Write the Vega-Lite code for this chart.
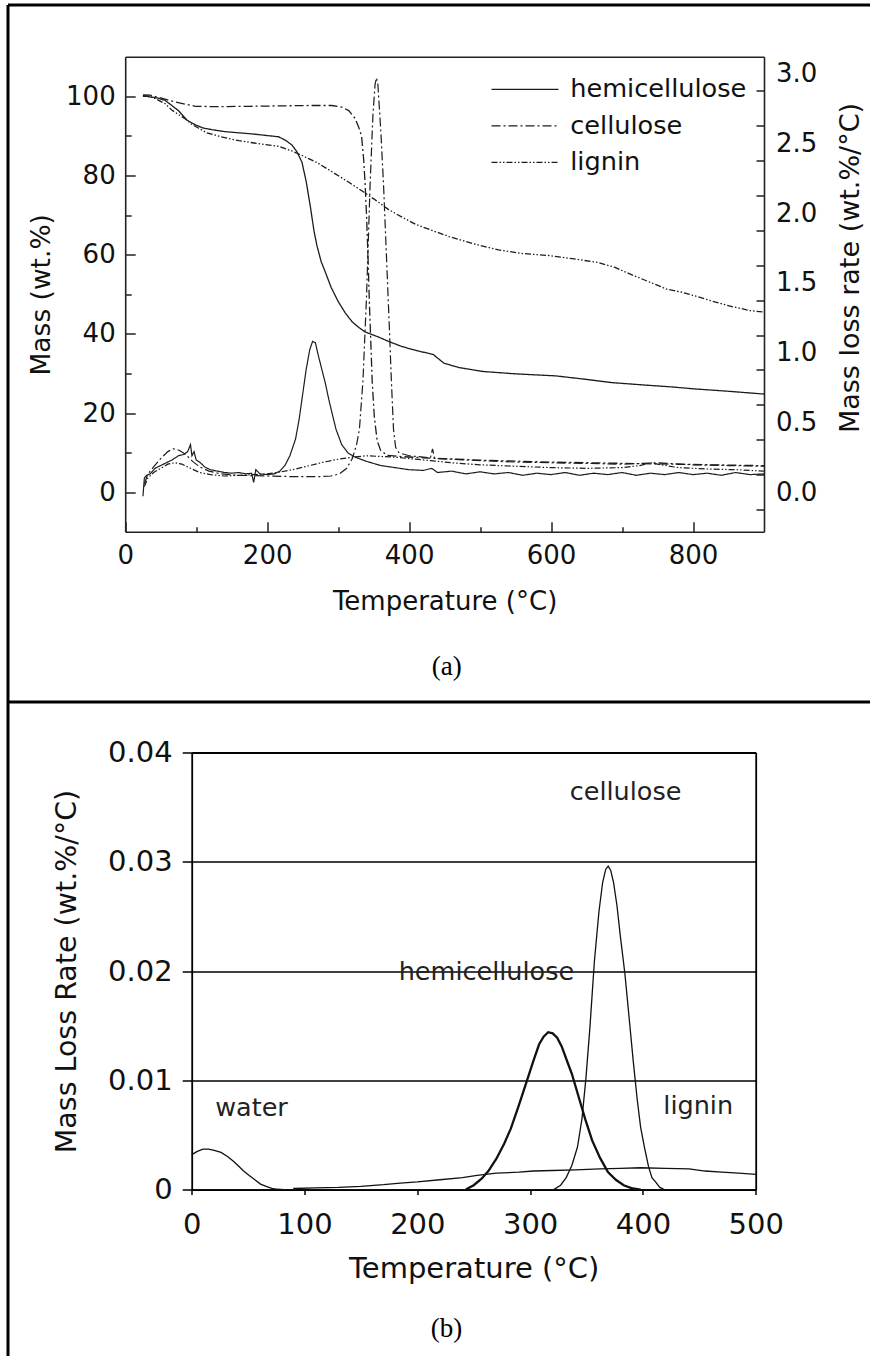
{
  "$schema": "https://vega.github.io/schema/vega-lite/v6.json",
  "padding": {"left": 7.5, "top": 4.5, "right": 0, "bottom": 0},
  "autosize": {"type": "pad"},
  "background": "white",
  "spacing": 0,
  "bounds": "flush",
  "config": {
    "view": {"stroke": null},
    "font": "DejaVu Sans",
    "axis": {"domainColor": "#222", "tickColor": "#222", "labelColor": "#111", "titleColor": "#111", "labelFont": "DejaVu Sans", "titleFont": "DejaVu Sans", "titleFontWeight": "normal", "grid": false},
    "text": {"font": "DejaVu Sans"}
  },
  "datasets": {
    "mass": [
      {"comp": "hemicellulose", "T": 25, "mass": 100}, {"comp": "hemicellulose", "T": 30, "mass": 100}, {"comp": "hemicellulose", "T": 45, "mass": 99.6}, {"comp": "hemicellulose", "T": 56, "mass": 99}, {"comp": "hemicellulose", "T": 65, "mass": 97.8}, {"comp": "hemicellulose", "T": 75, "mass": 96.4}, {"comp": "hemicellulose", "T": 87, "mass": 94}, {"comp": "hemicellulose", "T": 99, "mass": 92.8}, {"comp": "hemicellulose", "T": 110, "mass": 92}, {"comp": "hemicellulose", "T": 122, "mass": 91.6}, {"comp": "hemicellulose", "T": 140, "mass": 91.1}, {"comp": "hemicellulose", "T": 160, "mass": 90.8}, {"comp": "hemicellulose", "T": 180, "mass": 90.5}, {"comp": "hemicellulose", "T": 200, "mass": 90.1}, {"comp": "hemicellulose", "T": 216, "mass": 89.8}, {"comp": "hemicellulose", "T": 226, "mass": 88.9}, {"comp": "hemicellulose", "T": 235, "mass": 87.7}, {"comp": "hemicellulose", "T": 242, "mass": 86}, {"comp": "hemicellulose", "T": 249, "mass": 83.4}, {"comp": "hemicellulose", "T": 255, "mass": 78.5}, {"comp": "hemicellulose", "T": 261, "mass": 72}, {"comp": "hemicellulose", "T": 266, "mass": 66}, {"comp": "hemicellulose", "T": 270, "mass": 62.4}, {"comp": "hemicellulose", "T": 276, "mass": 58.3}, {"comp": "hemicellulose", "T": 282, "mass": 55.6}, {"comp": "hemicellulose", "T": 290, "mass": 51.8}, {"comp": "hemicellulose", "T": 300, "mass": 48.2}, {"comp": "hemicellulose", "T": 310, "mass": 45.3}, {"comp": "hemicellulose", "T": 320, "mass": 43}, {"comp": "hemicellulose", "T": 330, "mass": 41.5}, {"comp": "hemicellulose", "T": 338, "mass": 40.5}, {"comp": "hemicellulose", "T": 357, "mass": 39.2}, {"comp": "hemicellulose", "T": 371, "mass": 38.1}, {"comp": "hemicellulose", "T": 390, "mass": 36.8}, {"comp": "hemicellulose", "T": 410, "mass": 35.8}, {"comp": "hemicellulose", "T": 434, "mass": 34.8}, {"comp": "hemicellulose", "T": 449, "mass": 32.6}, {"comp": "hemicellulose", "T": 470, "mass": 31.5}, {"comp": "hemicellulose", "T": 504, "mass": 30.5}, {"comp": "hemicellulose", "T": 550, "mass": 29.9}, {"comp": "hemicellulose", "T": 606, "mass": 29.4}, {"comp": "hemicellulose", "T": 645, "mass": 28.6}, {"comp": "hemicellulose", "T": 685, "mass": 27.7}, {"comp": "hemicellulose", "T": 730, "mass": 27.1}, {"comp": "hemicellulose", "T": 770, "mass": 26.6}, {"comp": "hemicellulose", "T": 802, "mass": 26.1}, {"comp": "hemicellulose", "T": 850, "mass": 25.5}, {"comp": "hemicellulose", "T": 900, "mass": 24.8},
      {"comp": "cellulose", "T": 25, "mass": 100.4}, {"comp": "cellulose", "T": 35, "mass": 100.3}, {"comp": "cellulose", "T": 50, "mass": 99.6}, {"comp": "cellulose", "T": 70, "mass": 98.6}, {"comp": "cellulose", "T": 99, "mass": 97.5}, {"comp": "cellulose", "T": 130, "mass": 97.4}, {"comp": "cellulose", "T": 175, "mass": 97.5}, {"comp": "cellulose", "T": 220, "mass": 97.6}, {"comp": "cellulose", "T": 260, "mass": 97.7}, {"comp": "cellulose", "T": 291, "mass": 97.7}, {"comp": "cellulose", "T": 305, "mass": 97.3}, {"comp": "cellulose", "T": 315, "mass": 96.4}, {"comp": "cellulose", "T": 324, "mass": 94.4}, {"comp": "cellulose", "T": 329, "mass": 92.2}, {"comp": "cellulose", "T": 333, "mass": 90}, {"comp": "cellulose", "T": 336, "mass": 84}, {"comp": "cellulose", "T": 338, "mass": 78}, {"comp": "cellulose", "T": 340, "mass": 70}, {"comp": "cellulose", "T": 342, "mass": 60}, {"comp": "cellulose", "T": 344, "mass": 48}, {"comp": "cellulose", "T": 346, "mass": 38}, {"comp": "cellulose", "T": 348, "mass": 28}, {"comp": "cellulose", "T": 351, "mass": 19}, {"comp": "cellulose", "T": 355, "mass": 13}, {"comp": "cellulose", "T": 360, "mass": 10.5}, {"comp": "cellulose", "T": 370, "mass": 9.3}, {"comp": "cellulose", "T": 390, "mass": 9}, {"comp": "cellulose", "T": 420, "mass": 8.7}, {"comp": "cellulose", "T": 460, "mass": 8.4}, {"comp": "cellulose", "T": 500, "mass": 8.1}, {"comp": "cellulose", "T": 600, "mass": 7.6}, {"comp": "cellulose", "T": 700, "mass": 7.3}, {"comp": "cellulose", "T": 800, "mass": 7}, {"comp": "cellulose", "T": 900, "mass": 6.7},
      {"comp": "lignin", "T": 25, "mass": 100.2}, {"comp": "lignin", "T": 35, "mass": 100}, {"comp": "lignin", "T": 45, "mass": 99.2}, {"comp": "lignin", "T": 56, "mass": 98.2}, {"comp": "lignin", "T": 66, "mass": 96.5}, {"comp": "lignin", "T": 76, "mass": 95.3}, {"comp": "lignin", "T": 85, "mass": 94.3}, {"comp": "lignin", "T": 95, "mass": 92.8}, {"comp": "lignin", "T": 103, "mass": 92}, {"comp": "lignin", "T": 115, "mass": 90.8}, {"comp": "lignin", "T": 135, "mass": 89.8}, {"comp": "lignin", "T": 160, "mass": 88.8}, {"comp": "lignin", "T": 190, "mass": 88}, {"comp": "lignin", "T": 216, "mass": 87.4}, {"comp": "lignin", "T": 235, "mass": 86.2}, {"comp": "lignin", "T": 250, "mass": 85}, {"comp": "lignin", "T": 270, "mass": 83.3}, {"comp": "lignin", "T": 291, "mass": 81}, {"comp": "lignin", "T": 315, "mass": 78.3}, {"comp": "lignin", "T": 338, "mass": 75.6}, {"comp": "lignin", "T": 355, "mass": 73.5}, {"comp": "lignin", "T": 371, "mass": 71.4}, {"comp": "lignin", "T": 390, "mass": 69.5}, {"comp": "lignin", "T": 410, "mass": 67.6}, {"comp": "lignin", "T": 430, "mass": 66.3}, {"comp": "lignin", "T": 456, "mass": 64.6}, {"comp": "lignin", "T": 490, "mass": 62.8}, {"comp": "lignin", "T": 526, "mass": 61.2}, {"comp": "lignin", "T": 560, "mass": 60.3}, {"comp": "lignin", "T": 597, "mass": 59.8}, {"comp": "lignin", "T": 630, "mass": 59}, {"comp": "lignin", "T": 667, "mass": 58}, {"comp": "lignin", "T": 690, "mass": 56.8}, {"comp": "lignin", "T": 714, "mass": 54.9}, {"comp": "lignin", "T": 740, "mass": 53}, {"comp": "lignin", "T": 763, "mass": 51.3}, {"comp": "lignin", "T": 785, "mass": 50.5}, {"comp": "lignin", "T": 810, "mass": 49.2}, {"comp": "lignin", "T": 832, "mass": 48}, {"comp": "lignin", "T": 855, "mass": 46.9}, {"comp": "lignin", "T": 880, "mass": 45.9}, {"comp": "lignin", "T": 900, "mass": 45.5}
    ],
    "rate": [
      {"comp": "hemicellulose", "T": 25, "rate": -0.03}, {"comp": "hemicellulose", "T": 27, "rate": 0.1}, {"comp": "hemicellulose", "T": 30, "rate": 0.12}, {"comp": "hemicellulose", "T": 35, "rate": 0.13}, {"comp": "hemicellulose", "T": 42, "rate": 0.17}, {"comp": "hemicellulose", "T": 50, "rate": 0.19}, {"comp": "hemicellulose", "T": 58, "rate": 0.21}, {"comp": "hemicellulose", "T": 66, "rate": 0.23}, {"comp": "hemicellulose", "T": 75, "rate": 0.26}, {"comp": "hemicellulose", "T": 83, "rate": 0.27}, {"comp": "hemicellulose", "T": 88, "rate": 0.29}, {"comp": "hemicellulose", "T": 92, "rate": 0.34}, {"comp": "hemicellulose", "T": 94, "rate": 0.26}, {"comp": "hemicellulose", "T": 97, "rate": 0.29}, {"comp": "hemicellulose", "T": 100, "rate": 0.23}, {"comp": "hemicellulose", "T": 106, "rate": 0.21}, {"comp": "hemicellulose", "T": 112, "rate": 0.18}, {"comp": "hemicellulose", "T": 120, "rate": 0.16}, {"comp": "hemicellulose", "T": 130, "rate": 0.15}, {"comp": "hemicellulose", "T": 140, "rate": 0.14}, {"comp": "hemicellulose", "T": 150, "rate": 0.135}, {"comp": "hemicellulose", "T": 160, "rate": 0.14}, {"comp": "hemicellulose", "T": 170, "rate": 0.13}, {"comp": "hemicellulose", "T": 178, "rate": 0.135}, {"comp": "hemicellulose", "T": 181, "rate": 0.07}, {"comp": "hemicellulose", "T": 184, "rate": 0.16}, {"comp": "hemicellulose", "T": 190, "rate": 0.13}, {"comp": "hemicellulose", "T": 200, "rate": 0.125}, {"comp": "hemicellulose", "T": 210, "rate": 0.13}, {"comp": "hemicellulose", "T": 218, "rate": 0.15}, {"comp": "hemicellulose", "T": 225, "rate": 0.19}, {"comp": "hemicellulose", "T": 232, "rate": 0.26}, {"comp": "hemicellulose", "T": 240, "rate": 0.38}, {"comp": "hemicellulose", "T": 245, "rate": 0.52}, {"comp": "hemicellulose", "T": 250, "rate": 0.7}, {"comp": "hemicellulose", "T": 255, "rate": 0.88}, {"comp": "hemicellulose", "T": 260, "rate": 1.02}, {"comp": "hemicellulose", "T": 264, "rate": 1.08}, {"comp": "hemicellulose", "T": 268, "rate": 1.07}, {"comp": "hemicellulose", "T": 272, "rate": 0.98}, {"comp": "hemicellulose", "T": 277, "rate": 0.88}, {"comp": "hemicellulose", "T": 282, "rate": 0.78}, {"comp": "hemicellulose", "T": 287, "rate": 0.66}, {"comp": "hemicellulose", "T": 291, "rate": 0.575}, {"comp": "hemicellulose", "T": 297, "rate": 0.45}, {"comp": "hemicellulose", "T": 305, "rate": 0.34}, {"comp": "hemicellulose", "T": 314, "rate": 0.28}, {"comp": "hemicellulose", "T": 324, "rate": 0.25}, {"comp": "hemicellulose", "T": 340, "rate": 0.22}, {"comp": "hemicellulose", "T": 360, "rate": 0.19}, {"comp": "hemicellulose", "T": 380, "rate": 0.175}, {"comp": "hemicellulose", "T": 400, "rate": 0.16}, {"comp": "hemicellulose", "T": 420, "rate": 0.155}, {"comp": "hemicellulose", "T": 432, "rate": 0.17}, {"comp": "hemicellulose", "T": 440, "rate": 0.14}, {"comp": "hemicellulose", "T": 460, "rate": 0.15}, {"comp": "hemicellulose", "T": 480, "rate": 0.13}, {"comp": "hemicellulose", "T": 500, "rate": 0.145}, {"comp": "hemicellulose", "T": 520, "rate": 0.13}, {"comp": "hemicellulose", "T": 540, "rate": 0.14}, {"comp": "hemicellulose", "T": 560, "rate": 0.12}, {"comp": "hemicellulose", "T": 580, "rate": 0.135}, {"comp": "hemicellulose", "T": 600, "rate": 0.125}, {"comp": "hemicellulose", "T": 620, "rate": 0.14}, {"comp": "hemicellulose", "T": 640, "rate": 0.12}, {"comp": "hemicellulose", "T": 660, "rate": 0.135}, {"comp": "hemicellulose", "T": 680, "rate": 0.125}, {"comp": "hemicellulose", "T": 700, "rate": 0.14}, {"comp": "hemicellulose", "T": 720, "rate": 0.12}, {"comp": "hemicellulose", "T": 740, "rate": 0.135}, {"comp": "hemicellulose", "T": 760, "rate": 0.125}, {"comp": "hemicellulose", "T": 780, "rate": 0.14}, {"comp": "hemicellulose", "T": 800, "rate": 0.125}, {"comp": "hemicellulose", "T": 820, "rate": 0.135}, {"comp": "hemicellulose", "T": 840, "rate": 0.12}, {"comp": "hemicellulose", "T": 860, "rate": 0.14}, {"comp": "hemicellulose", "T": 880, "rate": 0.125}, {"comp": "hemicellulose", "T": 900, "rate": 0.13},
      {"comp": "cellulose", "T": 27, "rate": 0.06}, {"comp": "cellulose", "T": 32, "rate": 0.13}, {"comp": "cellulose", "T": 40, "rate": 0.18}, {"comp": "cellulose", "T": 50, "rate": 0.24}, {"comp": "cellulose", "T": 60, "rate": 0.29}, {"comp": "cellulose", "T": 68, "rate": 0.31}, {"comp": "cellulose", "T": 76, "rate": 0.3}, {"comp": "cellulose", "T": 85, "rate": 0.27}, {"comp": "cellulose", "T": 95, "rate": 0.22}, {"comp": "cellulose", "T": 105, "rate": 0.18}, {"comp": "cellulose", "T": 118, "rate": 0.15}, {"comp": "cellulose", "T": 135, "rate": 0.13}, {"comp": "cellulose", "T": 160, "rate": 0.12}, {"comp": "cellulose", "T": 200, "rate": 0.115}, {"comp": "cellulose", "T": 240, "rate": 0.11}, {"comp": "cellulose", "T": 270, "rate": 0.11}, {"comp": "cellulose", "T": 290, "rate": 0.115}, {"comp": "cellulose", "T": 302, "rate": 0.13}, {"comp": "cellulose", "T": 312, "rate": 0.17}, {"comp": "cellulose", "T": 320, "rate": 0.24}, {"comp": "cellulose", "T": 326, "rate": 0.34}, {"comp": "cellulose", "T": 330, "rate": 0.45}, {"comp": "cellulose", "T": 335, "rate": 0.8}, {"comp": "cellulose", "T": 340, "rate": 1.4}, {"comp": "cellulose", "T": 345, "rate": 2.2}, {"comp": "cellulose", "T": 349, "rate": 2.7}, {"comp": "cellulose", "T": 352, "rate": 2.92}, {"comp": "cellulose", "T": 354, "rate": 2.97}, {"comp": "cellulose", "T": 356, "rate": 2.92}, {"comp": "cellulose", "T": 360, "rate": 2.6}, {"comp": "cellulose", "T": 364, "rate": 2.2}, {"comp": "cellulose", "T": 368, "rate": 1.7}, {"comp": "cellulose", "T": 372, "rate": 1.2}, {"comp": "cellulose", "T": 375, "rate": 0.8}, {"comp": "cellulose", "T": 378, "rate": 0.45}, {"comp": "cellulose", "T": 381, "rate": 0.32}, {"comp": "cellulose", "T": 386, "rate": 0.28}, {"comp": "cellulose", "T": 400, "rate": 0.26}, {"comp": "cellulose", "T": 420, "rate": 0.25}, {"comp": "cellulose", "T": 430, "rate": 0.245}, {"comp": "cellulose", "T": 433, "rate": 0.31}, {"comp": "cellulose", "T": 436, "rate": 0.24}, {"comp": "cellulose", "T": 460, "rate": 0.235}, {"comp": "cellulose", "T": 500, "rate": 0.225}, {"comp": "cellulose", "T": 550, "rate": 0.215}, {"comp": "cellulose", "T": 600, "rate": 0.21}, {"comp": "cellulose", "T": 650, "rate": 0.205}, {"comp": "cellulose", "T": 700, "rate": 0.2}, {"comp": "cellulose", "T": 750, "rate": 0.21}, {"comp": "cellulose", "T": 800, "rate": 0.195}, {"comp": "cellulose", "T": 850, "rate": 0.19}, {"comp": "cellulose", "T": 900, "rate": 0.185},
      {"comp": "lignin", "T": 27, "rate": 0.04}, {"comp": "lignin", "T": 32, "rate": 0.1}, {"comp": "lignin", "T": 40, "rate": 0.14}, {"comp": "lignin", "T": 50, "rate": 0.17}, {"comp": "lignin", "T": 60, "rate": 0.2}, {"comp": "lignin", "T": 70, "rate": 0.21}, {"comp": "lignin", "T": 80, "rate": 0.2}, {"comp": "lignin", "T": 92, "rate": 0.17}, {"comp": "lignin", "T": 105, "rate": 0.14}, {"comp": "lignin", "T": 120, "rate": 0.125}, {"comp": "lignin", "T": 140, "rate": 0.115}, {"comp": "lignin", "T": 160, "rate": 0.12}, {"comp": "lignin", "T": 180, "rate": 0.125}, {"comp": "lignin", "T": 200, "rate": 0.13}, {"comp": "lignin", "T": 220, "rate": 0.145}, {"comp": "lignin", "T": 240, "rate": 0.165}, {"comp": "lignin", "T": 260, "rate": 0.19}, {"comp": "lignin", "T": 280, "rate": 0.215}, {"comp": "lignin", "T": 300, "rate": 0.235}, {"comp": "lignin", "T": 320, "rate": 0.25}, {"comp": "lignin", "T": 340, "rate": 0.26}, {"comp": "lignin", "T": 360, "rate": 0.255}, {"comp": "lignin", "T": 380, "rate": 0.25}, {"comp": "lignin", "T": 400, "rate": 0.24}, {"comp": "lignin", "T": 430, "rate": 0.225}, {"comp": "lignin", "T": 460, "rate": 0.21}, {"comp": "lignin", "T": 500, "rate": 0.195}, {"comp": "lignin", "T": 550, "rate": 0.185}, {"comp": "lignin", "T": 600, "rate": 0.175}, {"comp": "lignin", "T": 650, "rate": 0.17}, {"comp": "lignin", "T": 700, "rate": 0.175}, {"comp": "lignin", "T": 725, "rate": 0.19}, {"comp": "lignin", "T": 740, "rate": 0.21}, {"comp": "lignin", "T": 755, "rate": 0.195}, {"comp": "lignin", "T": 780, "rate": 0.175}, {"comp": "lignin", "T": 820, "rate": 0.165}, {"comp": "lignin", "T": 860, "rate": 0.16}, {"comp": "lignin", "T": 900, "rate": 0.15}
    ],
    "dtg": [
      {"comp": "water", "T": 0, "rate": 0.0032}, {"comp": "water", "T": 5, "rate": 0.0035}, {"comp": "water", "T": 10, "rate": 0.0037}, {"comp": "water", "T": 15, "rate": 0.0037}, {"comp": "water", "T": 20, "rate": 0.0036}, {"comp": "water", "T": 26, "rate": 0.0034}, {"comp": "water", "T": 32, "rate": 0.003}, {"comp": "water", "T": 37, "rate": 0.0026}, {"comp": "water", "T": 41, "rate": 0.0022}, {"comp": "water", "T": 46, "rate": 0.0017}, {"comp": "water", "T": 51, "rate": 0.0013}, {"comp": "water", "T": 56, "rate": 0.0009}, {"comp": "water", "T": 61, "rate": 0.0005}, {"comp": "water", "T": 66, "rate": 0.0003}, {"comp": "water", "T": 71, "rate": 0.00012}, {"comp": "water", "T": 76, "rate": 0.00003}, {"comp": "water", "T": 82, "rate": 0},
      {"comp": "lignin", "T": 90, "rate": 0.0001}, {"comp": "lignin", "T": 110, "rate": 0.00015}, {"comp": "lignin", "T": 130, "rate": 0.0002}, {"comp": "lignin", "T": 150, "rate": 0.0003}, {"comp": "lignin", "T": 170, "rate": 0.00045}, {"comp": "lignin", "T": 185, "rate": 0.0006}, {"comp": "lignin", "T": 200, "rate": 0.0007}, {"comp": "lignin", "T": 220, "rate": 0.0009}, {"comp": "lignin", "T": 240, "rate": 0.0011}, {"comp": "lignin", "T": 253, "rate": 0.0013}, {"comp": "lignin", "T": 270, "rate": 0.0015}, {"comp": "lignin", "T": 290, "rate": 0.0016}, {"comp": "lignin", "T": 303, "rate": 0.0017}, {"comp": "lignin", "T": 320, "rate": 0.00175}, {"comp": "lignin", "T": 340, "rate": 0.0018}, {"comp": "lignin", "T": 362, "rate": 0.0019}, {"comp": "lignin", "T": 380, "rate": 0.00195}, {"comp": "lignin", "T": 398, "rate": 0.002}, {"comp": "lignin", "T": 420, "rate": 0.00195}, {"comp": "lignin", "T": 441, "rate": 0.0019}, {"comp": "lignin", "T": 455, "rate": 0.0017}, {"comp": "lignin", "T": 470, "rate": 0.0016}, {"comp": "lignin", "T": 485, "rate": 0.0015}, {"comp": "lignin", "T": 500, "rate": 0.0014},
      {"comp": "hemicellulose", "T": 243, "rate": 0}, {"comp": "hemicellulose", "T": 250, "rate": 0.0004}, {"comp": "hemicellulose", "T": 257, "rate": 0.001}, {"comp": "hemicellulose", "T": 263, "rate": 0.0017}, {"comp": "hemicellulose", "T": 270, "rate": 0.0028}, {"comp": "hemicellulose", "T": 277, "rate": 0.0042}, {"comp": "hemicellulose", "T": 283, "rate": 0.0056}, {"comp": "hemicellulose", "T": 290, "rate": 0.0077}, {"comp": "hemicellulose", "T": 297, "rate": 0.0099}, {"comp": "hemicellulose", "T": 303, "rate": 0.0118}, {"comp": "hemicellulose", "T": 308, "rate": 0.0133}, {"comp": "hemicellulose", "T": 312, "rate": 0.014}, {"comp": "hemicellulose", "T": 316, "rate": 0.0144}, {"comp": "hemicellulose", "T": 320, "rate": 0.0143}, {"comp": "hemicellulose", "T": 324, "rate": 0.0139}, {"comp": "hemicellulose", "T": 328, "rate": 0.0131}, {"comp": "hemicellulose", "T": 333, "rate": 0.0117}, {"comp": "hemicellulose", "T": 337, "rate": 0.0106}, {"comp": "hemicellulose", "T": 343, "rate": 0.0085}, {"comp": "hemicellulose", "T": 349, "rate": 0.0064}, {"comp": "hemicellulose", "T": 355, "rate": 0.0045}, {"comp": "hemicellulose", "T": 362, "rate": 0.0029}, {"comp": "hemicellulose", "T": 369, "rate": 0.0016}, {"comp": "hemicellulose", "T": 376, "rate": 0.0009}, {"comp": "hemicellulose", "T": 383, "rate": 0.0004}, {"comp": "hemicellulose", "T": 391, "rate": 0.0001}, {"comp": "hemicellulose", "T": 398, "rate": 0},
      {"comp": "cellulose", "T": 321, "rate": 0}, {"comp": "cellulose", "T": 327, "rate": 0.0004}, {"comp": "cellulose", "T": 332, "rate": 0.0011}, {"comp": "cellulose", "T": 337, "rate": 0.0022}, {"comp": "cellulose", "T": 342, "rate": 0.0039}, {"comp": "cellulose", "T": 346, "rate": 0.0065}, {"comp": "cellulose", "T": 349.5, "rate": 0.0102}, {"comp": "cellulose", "T": 353, "rate": 0.0148}, {"comp": "cellulose", "T": 357, "rate": 0.0209}, {"comp": "cellulose", "T": 361, "rate": 0.0254}, {"comp": "cellulose", "T": 364.3, "rate": 0.0281}, {"comp": "cellulose", "T": 367, "rate": 0.0293}, {"comp": "cellulose", "T": 369.2, "rate": 0.0296}, {"comp": "cellulose", "T": 371.5, "rate": 0.0292}, {"comp": "cellulose", "T": 374, "rate": 0.0281}, {"comp": "cellulose", "T": 377, "rate": 0.026}, {"comp": "cellulose", "T": 380, "rate": 0.0232}, {"comp": "cellulose", "T": 384, "rate": 0.0198}, {"comp": "cellulose", "T": 388, "rate": 0.0155}, {"comp": "cellulose", "T": 391.4, "rate": 0.0118}, {"comp": "cellulose", "T": 395, "rate": 0.0082}, {"comp": "cellulose", "T": 398, "rate": 0.0057}, {"comp": "cellulose", "T": 401.3, "rate": 0.0039}, {"comp": "cellulose", "T": 405, "rate": 0.0021}, {"comp": "cellulose", "T": 408, "rate": 0.0011}, {"comp": "cellulose", "T": 411.2, "rate": 0.0007}, {"comp": "cellulose", "T": 415, "rate": 0.0002}, {"comp": "cellulose", "T": 419, "rate": 0}
    ],
    "notes": [
      {"label": "cellulose", "T": 384.6, "rate": 0.03634},
      {"label": "hemicellulose", "T": 261.3, "rate": 0.01987},
      {"label": "water", "T": 53, "rate": 0.00746},
      {"label": "lignin", "T": 449, "rate": 0.00767}
    ]
  },
  "vconcat": [
    {
      "width": 862,
      "height": 697,
      "resolve": {"scale": {"x": "independent", "y": "independent"}, "axis": {"x": "independent", "y": "independent"}},
      "layer": [
        {
          "data": {"name": "mass"},
          "mark": {"type": "line", "color": "#1c1c1c", "strokeWidth": 1.3},
          "encoding": {
            "x": {"field": "T", "type": "quantitative",
              "scale": {"domain": [0, 900], "range": [117.7, 756.5], "nice": false, "zero": false},
              "axis": {"orient": "bottom", "offset": -169.7, "values": [0, 200, 400, 600, 800], "tickSize": -10, "tickWidth": 1.5, "domainWidth": 1.6, "labelFontSize": 26, "labelPadding": 21, "labelFlush": false, "labelOverlap": false, "title": "Temperature (°C)", "titleFontSize": 26, "titleY": 69.7, "titleBaseline": "middle"}},
            "y": {"field": "mass", "type": "quantitative",
              "scale": {"domain": [-10, 110], "range": [527.3, 52.3], "nice": false, "zero": false},
              "axis": {"orient": "left", "offset": -117.7, "values": [0, 20, 40, 60, 80, 100], "tickSize": -10, "tickWidth": 1.5, "domainWidth": 1.6, "labelFontSize": 26, "labelPadding": 20, "labelOverlap": false, "title": "Mass (wt.%)", "titleFontSize": 26.5, "titleX": -83.7, "titleBaseline": "middle", "titleAngle": 270}},
            "strokeDash": {"field": "comp", "type": "nominal",
              "scale": {"domain": ["hemicellulose", "cellulose", "lignin"], "range": [[1, 0], [9, 3, 2, 3], [6, 2, 1.5, 2, 1.5, 2]]},
              "legend": {"orient": "none", "legendX": 484, "legendY": 72, "title": null, "direction": "vertical", "symbolType": "M-3.35,0H3.35", "symbolSize": 400, "symbolOffset": 20.7, "symbolStrokeWidth": 1.3, "symbolStrokeColor": "#1c1c1c", "labelFontSize": 25.6, "labelFont": "DejaVu Sans", "labelOffset": 32.4, "rowPadding": 9.5, "padding": 0, "labelColor": "#111", "labelLimit": 400}}
          }
        },
        {
          "data": {"name": "rate"},
          "mark": {"type": "line", "color": "#1c1c1c", "strokeWidth": 1.2},
          "encoding": {
            "x": {"field": "T", "type": "quantitative",
              "scale": {"domain": [0, 900], "range": [117.7, 756.5], "nice": false, "zero": false},
              "axis": {"orient": "top", "offset": -52.3, "ticks": false, "labels": false, "title": null, "domainWidth": 1.6}},
            "y": {"field": "rate", "type": "quantitative",
              "scale": {"domain": [-0.285, 3.12], "range": [527.3, 52.3], "nice": false, "zero": false},
              "axis": {"orient": "right", "offset": -105.5, "values": [0, 0.25, 0.5, 0.75, 1, 1.25, 1.5, 1.75, 2, 2.25, 2.5, 2.75, 3], "tickOffset": 17.4, "labelOffset": -17.4, "labelExpr": "datum.value % 0.5 === 0 ? format(datum.value, '.1f') : ''", "tickSize": -8, "tickWidth": 1.5, "domainWidth": 1.6, "labelFontSize": 26, "labelPadding": 19.5, "labelOverlap": false, "labelFlush": false, "title": "Mass loss rate (wt.%/°C)", "titleFontSize": 27, "titleAngle": 270, "titleBaseline": "middle", "titleX": 86.5, "titleY": 263}},
            "strokeDash": {"field": "comp", "type": "nominal",
              "scale": {"domain": ["hemicellulose", "cellulose", "lignin"], "range": [[1, 0], [9, 3, 2, 3], [6, 2, 1.5, 2, 1.5, 2]]},
              "legend": {"orient": "none", "legendX": 484, "legendY": 72, "title": null, "direction": "vertical", "symbolType": "M-3.35,0H3.35", "symbolSize": 400, "symbolOffset": 20.7, "symbolStrokeWidth": 1.3, "symbolStrokeColor": "#1c1c1c", "labelFontSize": 25.6, "labelFont": "DejaVu Sans", "labelOffset": 32.4, "rowPadding": 9.5, "padding": 0, "labelColor": "#111", "labelLimit": 400}}
          }
        },
        {
          "data": {"values": [{"caption": "(a)"}]},
          "mark": {"type": "text", "font": "Liberation Serif", "fontSize": 27, "color": "#000", "align": "center", "baseline": "middle"},
          "encoding": {
            "text": {"field": "caption", "type": "nominal"},
            "x": {"datum": 452.9, "type": "quantitative",
              "scale": {"domain": [0, 900], "range": [117.7, 756.5], "nice": false, "zero": false},
              "axis": {"orient": "bottom", "offset": -169.7, "values": [100, 300, 500, 700], "tickSize": -5, "tickWidth": 1.5, "domain": false, "labels": false, "title": null}},
            "y": {"datum": -44.1, "type": "quantitative",
              "scale": {"domain": [-10, 110], "range": [527.3, 52.3], "nice": false, "zero": false},
              "axis": {"orient": "left", "offset": -117.7, "values": [10, 30, 50, 70, 90], "tickSize": -6, "tickWidth": 1.5, "domain": false, "labels": false, "title": null}}
          }
        },
        {
          "data": {"values": [{"k": 1}]},
          "mark": {"type": "point", "opacity": 0, "size": 1},
          "encoding": {
            "x": {"datum": 0.5, "type": "quantitative", "scale": {"domain": [0, 1]},
              "axis": {"orient": "top", "offset": 0, "domainWidth": 3, "domainColor": "#000", "ticks": false, "labels": false, "title": null}},
            "y": {"datum": 0.5, "type": "quantitative", "scale": {"domain": [0, 1]},
              "axis": {"orient": "left", "offset": 0, "domainWidth": 3, "domainColor": "#000", "ticks": false, "labels": false, "title": null}}
          }
        }
      ]
    },
    {
      "width": 862,
      "height": 654,
      "resolve": {"scale": {"x": "independent", "y": "independent"}, "axis": {"x": "independent", "y": "independent"}},
      "layer": [
        {
          "data": {"name": "dtg"},
          "mark": {"type": "line", "color": "#111"},
          "encoding": {
            "x": {"field": "T", "type": "quantitative",
              "scale": {"domain": [0, 500], "range": [184.2, 748.2], "nice": false, "zero": false},
              "axis": {"orient": "bottom", "offset": -165.9, "values": [0, 100, 200, 300, 400, 500], "tickSize": 5, "tickWidth": 1.5, "tickColor": "#000", "domainWidth": 1.8, "domainColor": "#000", "labelFontSize": 29, "labelPadding": 15.5, "labelFlush": false, "labelOverlap": false, "title": "Temperature (°C)", "titleFontSize": 29, "titleY": 79, "titleBaseline": "middle"}},
            "y": {"field": "rate", "type": "quantitative",
              "scale": {"domain": [0, 0.04], "range": [488.1, 51], "nice": false, "zero": false},
              "axis": {"orient": "left", "offset": -184.2, "values": [0, 0.01, 0.02, 0.03, 0.04], "format": ".2~f", "tickSize": 9.5, "tickWidth": 1.5, "tickColor": "#000", "domainWidth": 1.8, "domainColor": "#000", "grid": true, "gridColor": "#000", "gridWidth": 1.3, "gridOpacity": 1, "labelFontSize": 29, "labelPadding": 10, "labelOverlap": false, "labelFlush": false, "title": "Mass Loss Rate (wt.%/°C)", "titleFontSize": 28.5, "titleX": -125.2, "titleBaseline": "middle", "titleAngle": 270}},
            "detail": {"field": "comp", "type": "nominal"},
            "strokeWidth": {"condition": {"test": "datum.comp === 'hemicellulose'", "value": 2.3}, "value": 1.3}
          }
        },
        {
          "data": {"name": "notes"},
          "mark": {"type": "text", "fontSize": 25.5, "color": "#222", "align": "center", "baseline": "middle"},
          "encoding": {
            "text": {"field": "label", "type": "nominal"},
            "x": {"field": "T", "type": "quantitative",
              "scale": {"domain": [0, 500], "range": [184.2, 748.2], "nice": false, "zero": false},
              "axis": {"orient": "top", "offset": -51, "ticks": false, "labels": false, "title": null, "domainWidth": 1.8, "domainColor": "#000"}},
            "y": {"field": "rate", "type": "quantitative",
              "scale": {"domain": [0, 0.04], "range": [488.1, 51], "nice": false, "zero": false},
              "axis": {"orient": "right", "offset": -113.8, "ticks": false, "labels": false, "title": null, "domainWidth": 1.8, "domainColor": "#000"}}
          }
        },
        {
          "data": {"values": [{"caption": "(b)"}]},
          "mark": {"type": "text", "font": "Liberation Serif", "fontSize": 27, "color": "#000", "align": "center", "baseline": "middle"},
          "encoding": {
            "text": {"field": "caption", "type": "nominal"},
            "x": {"datum": 225.9, "type": "quantitative",
              "scale": {"domain": [0, 500], "range": [184.2, 748.2], "nice": false, "zero": false}, "axis": null},
            "y": {"datum": -0.01278, "type": "quantitative",
              "scale": {"domain": [0, 0.04], "range": [488.1, 51], "nice": false, "zero": false}, "axis": null}
          }
        },
        {
          "data": {"values": [{"k": 1}]},
          "mark": {"type": "point", "opacity": 0, "size": 1},
          "encoding": {
            "x": {"datum": 0.5, "type": "quantitative", "scale": {"domain": [0, 1]},
              "axis": {"orient": "top", "offset": 0, "domainWidth": 3, "domainColor": "#000", "ticks": false, "labels": false, "title": null}},
            "y": {"datum": 0.5, "type": "quantitative", "scale": {"domain": [0, 1]},
              "axis": {"orient": "left", "offset": 0, "domainWidth": 3, "domainColor": "#000", "ticks": false, "labels": false, "title": null}}
          }
        }
      ]
    }
  ]
}
